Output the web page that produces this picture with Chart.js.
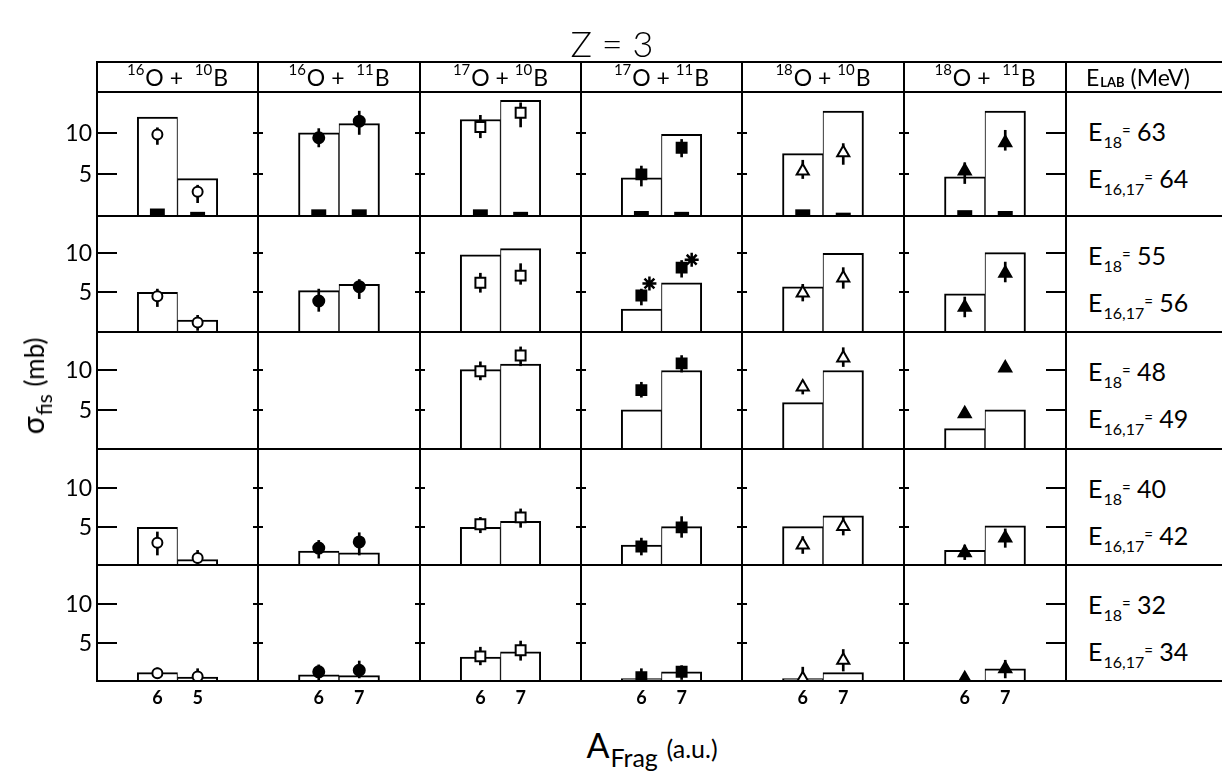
<!DOCTYPE html>
<html>
<head>
<meta charset="utf-8">
<script src="https://cdn.jsdelivr.net/npm/chart.js@4/dist/chart.umd.min.js"></script>
<style>
  body { margin: 0; background: #fff; }
  #fig { position: relative; width: 1222px; height: 776px; overflow: hidden; color: #000;
         font-family: Lato, "Open Sans", sans-serif; }
  .hl, .vl { position: absolute; background: #000; z-index: 3; }
  .hl { height: 2px; }
  .vl { width: 2px; }
  canvas.panel { position: absolute; z-index: 1; }
  .txt { position: absolute; z-index: 4; white-space: nowrap; line-height: 1; }
  .head { display: flex; align-items: center; justify-content: center; font-size: 23px; }
  .sup { font-size: 15px; position: relative; top: -8px; margin-right: 1px; }
  .sub { font-size: 16px; position: relative; top: 7px; margin-left: 1px; }
  .eq { font-size: 15px; position: relative; top: -5px; }
  .energy { font-size: 25px; }
</style>
</head>
<body>
<div id="fig"></div>
<script>
// Reactions (columns) and bombarding energies (rows)
const projMass = ["16", "16", "17", "17", "18", "18"];
const targetMass = ["10", "11", "10", "11", "10", "11"];
const fragLabels = [["6", "5"], ["6", "7"], ["6", "7"], ["6", "7"], ["6", "7"], ["6", "7"]];
const energy18 = [63, 55, 48, 40, 32];
const energy1617 = [64, 56, 49, 42, 34];
const yTickValues = [5, 10];

// Calculated cross sections (histogram), mb
const calcSigma = [
	[[11.9, 4.5], [10.0, 11.1], [11.6, 13.9], [4.6, 9.8], [7.5, 12.6], [4.7, 12.6]],
	[[5.0, 1.5], [5.2, 6.0], [9.7, 10.5], [2.9, 6.2], [5.7, 9.9], [4.8, 10.0]],
	[null, null, [10.1, 10.8], [5.0, 10.0], [5.9, 10.0], [2.6, 5.0]],
	[[4.9, 0.7], [1.8, 1.6], [4.9, 5.7], [2.6, 5.0], [5.0, 6.4], [1.9, 5.1]],
	[[1.1, 0.5], [0.8, 0.7], [3.1, 3.8], [0.3, 1.2], [0.3, 1.1], [0, 1.6]],
];

// Evaporation contribution, top energy only
const evapSigma = [[0.9, 0.5], [0.8, 0.8], [0.8, 0.5], [0.6, 0.5], [0.8, 0.4], [0.7, 0.6]];

// Measured cross sections with error limits
const measSigma = [
	[[9.8, 2.9], [9.4, 11.4], [10.7, 12.4], [5.0, 8.2], [5.4, 7.6], [5.4, 8.8]],
	[[4.5, 1.2], [3.9, 5.7], [6.2, 7.1], [4.6, 8.1], [4.9, 6.8], [3.1, 7.4]],
	[null, null, [9.9, 11.9], [7.5, 10.9], [7.9, 11.6], [4.5, 10.3]],
	[[2.9, 0.9], [2.2, 3.0], [5.3, 6.2], [2.4, 4.9], [2.6, 5.0], [1.6, 3.5]],
	[[1.0, 0.6], [1.2, 1.4], [3.2, 4.0], [0.5, 1.2], [0.3, 2.7], [0.3, 1.6]],
];
const measLow = [
	[[8.6, 1.6], [8.3, 9.8], [9.4, 10.7], [3.6, 7.1], [4.5, 6.2], [3.9, 7.9]],
	[[3.2, 0.2], [2.6, 4.2], [5.0, 6.0], [3.4, 6.9], [3.9, 5.5], [1.9, 6.3]],
	[null, null, [8.8, 10.6], [6.6, 9.8], [7.0, 10.5], [4.1, 9.9]],
	[[1.3, 0.2], [0.9, 1.3], [4.2, 4.9], [1.3, 3.6], [1.5, 3.9], [0.7, 2.3]],
	[[0.3, 0.1], [0.0, 0.4], [2.1, 2.7], [0.0, 0.2], [0.0, 1.3], [0.0, 0.4]],
];
const measHigh = [
	[[10.6, 3.7], [10.5, 12.6], [12.1, 13.6], [6.0, 9.2], [6.7, 8.7], [6.4, 10.3]],
	[[5.4, 2.1], [5.4, 6.6], [7.4, 8.6], [5.4, 9.0], [6.0, 8.1], [4.4, 8.8]],
	[null, null, [11.1, 13.0], [8.5, 11.9], [8.7, 12.9], [4.9, 10.7]],
	[[4.3, 1.9], [3.2, 4.2], [6.2, 7.3], [3.5, 6.3], [3.7, 6.3], [2.6, 4.7]],
	[[1.7, 1.6], [2.1, 2.6], [4.4, 5.2], [1.6, 2.0], [1.8, 4.1], [0.9, 2.7]],
];

// Second measurement (asterisks), 17O + 11B at E = 56 MeV
const starRow = 1;
const starCol = 3;
const starSigma = [6.1, 9.1];

// --------------------------- Layout ---------------------------
const colEdges = [97, 258, 420, 581, 742, 904, 1066];
const rowEdges = [92, 216, 332, 449, 565, 681];
const headTop = 62;
const frameRight = 1222;
const yMax = [14.9, 14.6, 14.9, 15.1, 15.1];
const slotX = [1.5, 2.5]; // bar centres on a 0..4 axis
const starShift = [0.2, 0.25];
const labelPad = 60; // room for the "10"/"5" labels left of the frame
const axisPad = 34; // room for fragment mass labels under the last row

const markerStyle = ["circle", "circle", "rect", "rect", "triangle", "triangle"];
const markerRadius = [5, 5.5, 7, 7, 7, 7];
const markerFilled = [false, true, false, true, false, true];
const fontFamily = 'Lato, "Open Sans", sans-serif';

const fig = document.getElementById("fig");

function put(cls, css, html) {
	const el = document.createElement("div");
	el.className = cls;
	Object.assign(el.style, css);
	if (html !== undefined) el.innerHTML = html;
	fig.appendChild(el);
	return el;
}

// --------------------------- Frame ---------------------------
[headTop, ...rowEdges].forEach((y) => {
	put("hl", { left: colEdges[0] - 1 + "px", top: y - 1 + "px", width: frameRight - colEdges[0] + 1 + "px" });
});
colEdges.forEach((x) => {
	put("vl", { left: x - 1 + "px", top: headTop - 1 + "px", height: rowEdges[rowEdges.length - 1] - headTop + 2 + "px" });
});

// --------------------------- Texts ---------------------------
put("txt", { left: "612px", top: "43px", transform: "translate(-50%,-50%)", fontSize: "36px", fontWeight: "300" }, "Z = 3");

projMass.forEach((p, c) => {
	const gap = c === 0 || c === 1 || c === 5 ? "&nbsp;&nbsp;" : "&nbsp;";
	put("txt head", {
		left: colEdges[c] + "px", top: headTop + "px",
		width: colEdges[c + 1] - colEdges[c] + "px", height: rowEdges[0] - headTop + "px",
	}, `<span class="sup">${p}</span>O&nbsp;+${gap}<span class="sup">${targetMass[c]}</span>B`);
});
put("txt head", {
	left: colEdges[6] + 20 + "px", top: headTop + "px", height: rowEdges[0] - headTop + "px", justifyContent: "flex-start",
}, 'E<span class="sub" style="font-size:13px;font-weight:bold;top:5px">LAB</span>&nbsp;(MeV)');

energy18.forEach((e, r) => {
	put("txt energy", { left: colEdges[6] + 22 + "px", top: rowEdges[r] + 39 + "px", transform: "translateY(-50%)" },
		`E<span class="sub">18</span><span class="eq">=</span> ${e}`);
	put("txt energy", { left: colEdges[6] + 22 + "px", top: rowEdges[r] + 86 + "px", transform: "translateY(-50%)" },
		`E<span class="sub">16,17</span><span class="eq">=</span> ${energy1617[r]}`);
});

put("txt", { left: "32px", top: "386px", transform: "translate(-50%,-50%) rotate(-90deg)", fontSize: "30px" },
	'σ<span class="sub" style="font-size:21px;top:8px">fis</span>&nbsp;<span style="font-size:26px">(mb)</span>');
put("txt", { left: "652px", top: "745px", transform: "translate(-50%,-50%)", fontSize: "34px" },
	'A<span class="sub" style="font-size:25px;top:9px">Frag</span>&nbsp;<span style="font-size:25px">(a.u.)</span>');

// --------------------------- Tick marks on the frame ---------------------------
const frameTicks = {
	id: "frameTicks",
	afterDraw(chart) {
		const { ctx, chartArea: a } = chart;
		const y = chart.scales.y;
		const col = chart.$col;
		ctx.save();
		ctx.strokeStyle = "#000";
		ctx.fillStyle = "#000";
		ctx.lineWidth = 2;
		ctx.font = "23px " + fontFamily;
		ctx.textAlign = "right";
		ctx.textBaseline = "middle";
		yTickValues.forEach((v) => {
			const py = Math.round(y.getPixelForValue(v));
			const inL = col === 0 ? 20 : 5;
			const inR = col === colEdges.length - 2 ? 20 : 5;
			ctx.beginPath();
			ctx.moveTo(a.left, py);
			ctx.lineTo(a.left + inL, py);
			ctx.moveTo(a.right - inR, py);
			ctx.lineTo(a.right, py);
			ctx.stroke();
			if (col === 0) ctx.fillText(String(v), a.left - 5, py + 1);
		});
		ctx.restore();
	},
};

// --------------------------- Panels ---------------------------
function panelDatasets(r, c) {
	const sets = [];
	const calc = calcSigma[r][c];
	if (calc) {
		sets.push({
			type: "bar",
			data: calc.map((v, i) => ({ x: slotX[i], y: v })),
			backgroundColor: "#fff",
			borderColor: "#000",
			borderWidth: (ctx) => ({ top: 2, left: ctx.dataIndex === 0 ? 2 : 1, right: ctx.dataIndex === 0 ? 1 : 2, bottom: 0 }),
			borderSkipped: "start",
			grouped: false,
			barPercentage: 1,
			categoryPercentage: 1,
			order: 5,
		});
	}
	if (r === 0) {
		sets.push({
			type: "bar",
			data: evapSigma[c].map((v, i) => ({ x: slotX[i], y: v })),
			backgroundColor: "#000",
			grouped: false,
			barPercentage: 0.37,
			categoryPercentage: 1,
			order: 4,
		});
	}
	const meas = measSigma[r][c];
	if (meas) {
		sets.push({
			type: "bar",
			data: meas.map((v, i) => ({ x: slotX[i], y: [measLow[r][c][i], measHigh[r][c][i]] })),
			backgroundColor: "#000",
			barThickness: 2,
			grouped: false,
			order: 3,
		});
		sets.push({
			type: "scatter",
			data: meas.map((v, i) => ({ x: slotX[i], y: v })),
			pointStyle: markerStyle[c],
			pointRadius: markerRadius[c],
			pointBackgroundColor: markerFilled[c] ? "#000" : "#fff",
			pointBorderColor: "#000",
			pointBorderWidth: 2,
			order: 1,
		});
	}
	if (r === starRow && c === starCol) {
		sets.push({
			type: "scatter",
			data: starSigma.map((v, i) => ({ x: slotX[i] + starShift[i], y: v })),
			pointStyle: "star",
			pointRadius: 7,
			pointBorderColor: "#000",
			pointBorderWidth: 2.5,
			order: 0,
		});
	}
	return sets;
}

for (let r = 0; r < calcSigma.length; r++) {
	for (let c = 0; c < projMass.length; c++) {
		const lastRow = r === calcSigma.length - 1;
		const padL = c === 0 ? labelPad : 0;
		const w = colEdges[c + 1] - colEdges[c] + padL;
		const h = rowEdges[r + 1] - rowEdges[r] + (lastRow ? axisPad : 0);
		const canvas = document.createElement("canvas");
		canvas.className = "panel";
		canvas.width = w;
		canvas.height = h;
		canvas.style.left = colEdges[c] - padL + "px";
		canvas.style.top = rowEdges[r] + "px";
		canvas.style.width = w + "px";
		canvas.style.height = h + "px";
		fig.appendChild(canvas);

		const chart = new Chart(canvas.getContext("2d"), {
			type: "bar",
			data: { datasets: panelDatasets(r, c) },
			options: {
				responsive: false,
				animation: false,
				events: [],
				layout: { autoPadding: false, padding: { left: padL, right: 0, top: 0, bottom: 0 } },
				plugins: { legend: { display: false }, tooltip: { enabled: false } },
				scales: {
					x: {
						type: "linear",
						min: 0,
						max: 4,
						offset: false,
						display: lastRow,
						afterBuildTicks: (s) => {
							s.ticks = slotX.map((v) => ({ value: v }));
						},
						afterFit: (s) => {
							if (lastRow) s.height = axisPad;
						},
						grid: { display: false, drawTicks: false },
						border: { display: false },
						ticks: {
							autoSkip: false,
							maxRotation: 0,
							padding: 6,
							color: "#000",
							font: { family: fontFamily, size: 18, weight: "bold" },
							callback: (v, i) => fragLabels[c][i],
						},
					},
					y: { type: "linear", min: 0, max: yMax[r], display: false },
				},
			},
			plugins: [frameTicks],
		});
		chart.$col = c;
		chart.draw();
	}
}
</script>
</body>
</html>
